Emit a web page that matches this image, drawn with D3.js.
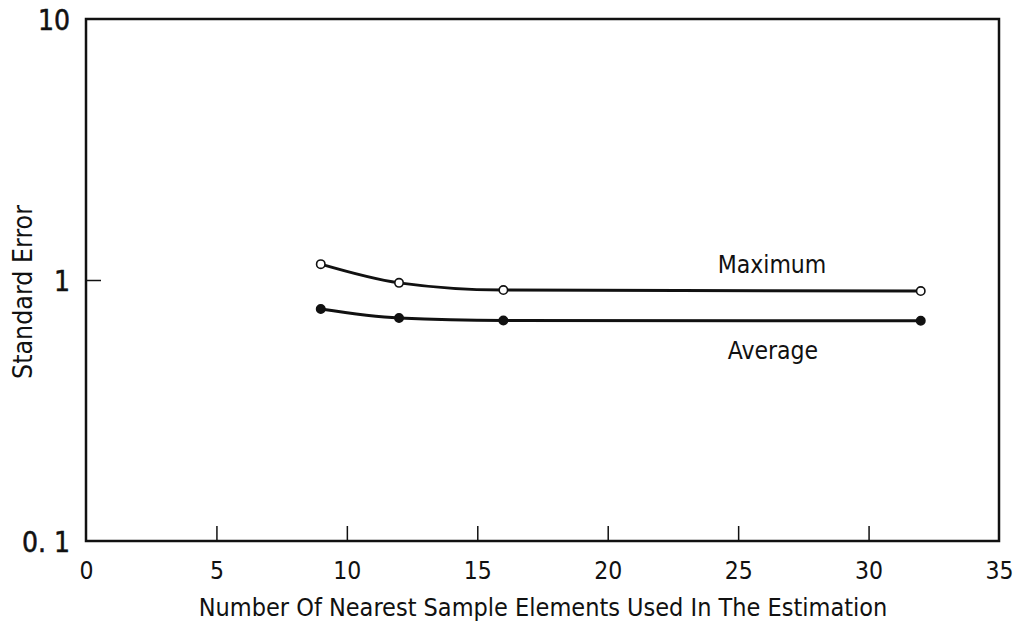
<!DOCTYPE html>
<html><head><meta charset="utf-8">
<script src="https://cdn.jsdelivr.net/npm/d3@7"></script>
<style>
body{margin:0;background:#fff;}
text{font-family:"DejaVu Sans Condensed","Liberation Sans Narrow",sans-serif;fill:#111;}
</style></head><body>
<svg id="c" width="1019" height="626"></svg>
<script>
const xValues = [9, 12, 16, 32];
const maximumValues = [1.15, 0.975, 0.915, 0.907];
const averageValues = [0.774, 0.715, 0.70, 0.698];
const xTicks = [0, 5, 10, 15, 20, 25, 30, 35];
const yTicks = [0.1, 1, 10];
const yTickLabels = ["0. 1", "1", "10"];
const seriesNames = ["Maximum", "Average"];

const svg = d3.select("#c");
const L = 86, R = 999, T = 19, B = 541;
const x = d3.scaleLinear().domain([0, 35]).range([L, R]);
const y = d3.scaleLog().domain([0.1, 10]).range([B, T]);

// frame
svg.append("rect").attr("x", L).attr("y", T).attr("width", R - L).attr("height", B - T)
  .attr("fill", "none").attr("stroke", "#111").attr("stroke-width", 2.5);

// x axis ticks (inward)
const xa = svg.append("g").attr("transform", `translate(0,${B})`)
  .call(d3.axisBottom(x).tickValues(xTicks).tickSizeInner(-15).tickSizeOuter(0).tickFormat(d3.format("d")));
xa.select(".domain").remove();
xa.selectAll(".tick line").attr("stroke", "#111").attr("stroke-width", 1.5)
  .filter(d => d === 0 || d === 35).remove();
xa.selectAll(".tick text").attr("font-size", 24.5).attr("font-family", null).attr("dy", "0").attr("y", 38);

// y axis ticks
const ya = svg.append("g").attr("transform", `translate(${L},0)`)
  .call(d3.axisLeft(y).tickValues(yTicks).tickSizeInner(-15).tickSizeOuter(0).tickPadding(16)
    .tickFormat((d, i) => yTickLabels[i]));
ya.select(".domain").remove();
ya.selectAll(".tick line").attr("stroke", "#111").attr("stroke-width", 1.5)
  .filter(d => d !== 1).remove();
ya.selectAll(".tick text").attr("font-size", 28).attr("font-family", "Liberation Serif, serif")
  .attr("dy", "0").attr("y", 10).attr("stroke", "#111").attr("stroke-width", 0.5);

// axis titles
svg.append("text").attr("x", 543).attr("y", 616).attr("text-anchor", "middle").attr("font-size", 25)
  .text("Number Of Nearest Sample Elements Used In The Estimation");
svg.append("text").attr("transform", "translate(32,292) rotate(-90)").attr("text-anchor", "middle").attr("font-size", 26.5)
  .text("Standard Error");

// series
const line = d3.line().x(d => x(d[0])).y(d => y(d[1])).curve(d3.curveMonotoneX);
const series = [
  {name: seriesNames[0], vals: maximumValues, open: true},
  {name: seriesNames[1], vals: averageValues, open: false}
];
series.forEach(s => {
  const pts = xValues.map((v, i) => [v, s.vals[i]]);
  svg.append("path").attr("d", line(pts)).attr("fill", "none").attr("stroke", "#111").attr("stroke-width", 3);
  svg.selectAll(null).data(pts).enter().append("circle")
    .attr("cx", d => x(d[0])).attr("cy", d => y(d[1])).attr("r", 4.2)
    .attr("fill", s.open ? "#fff" : "#111").attr("stroke", "#111").attr("stroke-width", 1.6);
});

// series labels
svg.append("text").attr("x", 772).attr("y", 273).attr("text-anchor", "middle").attr("font-size", 24.5).text(seriesNames[0]);
svg.append("text").attr("x", 773).attr("y", 359).attr("text-anchor", "middle").attr("font-size", 24.5).text(seriesNames[1]);
</script>
</body></html>
